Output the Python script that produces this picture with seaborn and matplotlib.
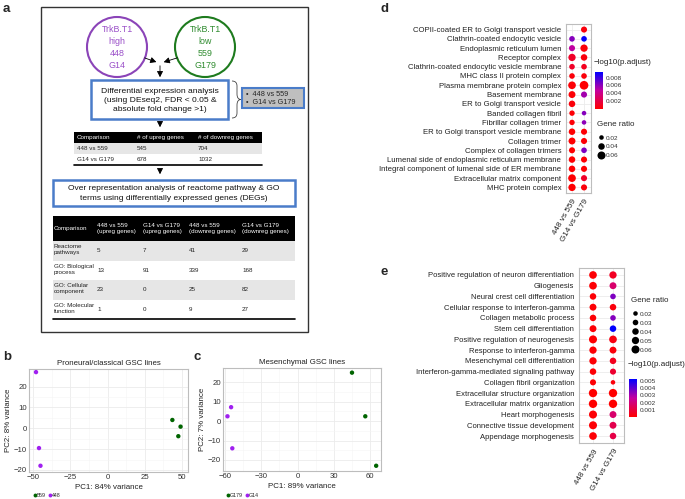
import numpy as np
import pandas as pd
import seaborn as sns
import matplotlib.pyplot as plt
from matplotlib.patches import Rectangle, Circle, PathPatch
from matplotlib.path import Path
from matplotlib.lines import Line2D
from matplotlib.colors import LinearSegmentedColormap, Normalize
from matplotlib.cm import ScalarMappable

# ---------------- data ----------------
# panel a: tables
deg_comparisons = ["448 vs 559", "G14 vs G179"]
deg_up = [545, 678]
deg_down = [704, 1032]

ora_header = ["Comparison", "448 vs 559\n(upreg genes)", "G14 vs G179\n(upreg genes)",
              "448 vs 559\n(downreg genes)", "G14 vs G179\n(downreg genes)"]
ora_terms = ["Reactome\npathways", "GO: Biological\nprocess", "GO: Cellular\ncomponent",
             "GO: Molecular\nfunction"]
ora_up_448 = [5, 13, 23, 1]
ora_up_g14 = [7, 91, 0, 0]
ora_down_448 = [41, 339, 25, 9]
ora_down_g14 = [29, 168, 82, 27]

# panel b / c: PCA
pca_b_pc1 = [43.5, 49, 47.5, -48, -46, -45]
pca_b_pc2 = [4, 0.8, -3.8, 27, -9.5, -18]
pca_b_line = ["559", "559", "559", "448", "448", "448"]

pca_c_pc1 = [45, 56, 65, -55, -58, -54]
pca_c_pc2 = [25, 2.5, -23, 7.2, 2.5, -14]
pca_c_line = ["G179", "G179", "G179", "G14", "G14", "G14"]

# panel d: GO cellular component
comparisons = ["448 vs 559", "G14 vs G179"]
d_terms = ["COPII-coated ER to Golgi transport vesicle", "Clathrin-coated endocytic vesicle",
           "Endoplasmic reticulum lumen", "Receptor complex",
           "Clathrin-coated endocytic vesicle membrane", "MHC class II protein complex",
           "Plasma membrane protein complex", "Basement membrane",
           "ER to Golgi transport vesicle", "Banded collagen fibril",
           "Fibrillar collagen trimer", "ER to Golgi transport vesicle membrane",
           "Collagen trimer", "Complex of collagen trimers",
           "Lumenal side of endoplasmic reticulum membrane",
           "Integral component of lumenal side of ER membrane",
           "Extracellular matrix component", "MHC protein complex"]
d_ratio_448 = [np.nan, 0.03, 0.035, 0.05, 0.03, 0.03, 0.055, 0.045, 0.04,
               0.028, 0.028, 0.04, 0.045, 0.035, 0.04, 0.04, 0.055, 0.05]
d_ratio_g14 = [0.035, 0.03, 0.05, 0.04, 0.03, 0.03, 0.07, 0.035, np.nan,
               0.02, 0.02, 0.035, 0.035, 0.03, 0.035, 0.035, 0.035, 0.035]
d_padj_448 = [np.nan, 0.0062, 0.0048, 0.0012, 0.0012, 0.0003, 0.0002, 0.0002, 0.0003,
              0.0002, 0.0002, 0.0001, 0.0001, 0.0001, 0.0001, 0.0001, 0.0001, 0.00005]
d_padj_g14 = [0.0004, 0.0093, 0.0003, 0.0004, 0.0009, 0.0003, 0.0001, 0.0055, np.nan,
              0.0062, 0.0060, 0.0002, 0.0002, 0.0064, 0.0001, 0.0001, 0.0012, 0.0003]

# panel e: GO biological process
e_terms = ["Positive regulation of neuron differentiation", "Gliogenesis",
           "Neural crest cell differentiation", "Cellular response to interferon-gamma",
           "Collagen metabolic process", "Stem cell differentiation",
           "Positive regulation of neurogenesis", "Response to interferon-gamma",
           "Mesenchymal cell differentiation", "Interferon-gamma-mediated signaling pathway",
           "Collagen fibril organization", "Extracellular structure organization",
           "Extracellular matrix organization", "Heart morphogenesis",
           "Connective tissue development", "Appendage morphogenesis"]
e_ratio_448 = [0.055, 0.055, 0.04, 0.045, 0.04, 0.045, 0.06, 0.05,
               0.05, 0.04, 0.035, 0.065, 0.065, 0.06, 0.06, 0.055]
e_ratio_g14 = [0.05, 0.045, 0.03, 0.04, 0.03, 0.04, 0.055, 0.045,
               0.04, 0.035, 0.02, 0.065, 0.065, 0.045, 0.045, 0.04]
e_padj_448 = [0.0001, 0.0001, 0.0001, 0.0001, 0.0001, 0.0001, 0.00005, 0.0001,
              0.0001, 0.0001, 0.0001, 0.00001, 0.00001, 0.0001, 0.0001, 0.0001]
e_padj_g14 = [0.0006, 0.0018, 0.0036, 0.0002, 0.0035, 0.0053, 0.0003, 0.0002,
              0.0005, 0.0008, 0.0002, 0.00001, 0.00001, 0.0018, 0.0013, 0.0012]

# ---------------- setup ----------------
sns.set_style("white")
plt.rcParams["font.family"] = ["Liberation Sans", "DejaVu Sans"]
plt.rcParams["axes.unicode_minus"] = True

W, H = 685, 499
fig = plt.figure(figsize=(W / 100, H / 100), dpi=100)


def px_axes(x0, y0, x1, y1):
    """axes placed with pixel coords measured from the top-left corner"""
    return fig.add_axes([x0 / W, 1 - y1 / H, (x1 - x0) / W, (y1 - y0) / H])


def fig_pt(x, y):
    return (x / W, 1 - y / H)


GREEN = "#006400"
PURPLE = "#A020F0"
BLUE_BOX = "#4A7CC9"
TXT = 4.5  # table text size
cmap_go = LinearSegmentedColormap.from_list("go", ["#FF0000", "#C4009E", "#0000FF"])

# ---------------- panel a : flow chart ----------------
axa = fig.add_axes([0, 0, 1, 1])
axa.set_xlim(0, W)
axa.set_ylim(H, 0)
axa.axis("off")

axa.add_patch(Rectangle((41, 7), 267, 325, fill=False, ec="#333333", lw=1))

axa.add_patch(Circle((117, 47), 30, fill=False, ec="#8B44B8", lw=1.5))
axa.text(117, 47.5, "TrkB.T1\nhigh\n448\nG14", color="#9A4FC8", fontsize=6.4,
         ha="center", va="center", linespacing=1.45)
axa.add_patch(Circle((205, 47), 30, fill=False, ec="#1E7B1E", lw=1.5))
axa.text(205, 47.5, "TrkB.T1\nlow\n559\nG179", color="#2E8B2E", fontsize=6.4,
         ha="center", va="center", linespacing=1.45)

arrow_kw = dict(arrowstyle="-|>,head_length=0.35,head_width=0.18", color="black", lw=0.6)
axa.annotate("", xy=(159, 63), xytext=(142, 57), arrowprops=arrow_kw)
axa.annotate("", xy=(161, 63), xytext=(180, 57), arrowprops=arrow_kw)
axa.annotate("", xy=(160, 80), xytext=(160, 63), arrowprops=arrow_kw)

axa.add_patch(Rectangle((91, 80), 137, 39, fc="white", ec=BLUE_BOX, lw=1.8))
axa.text(160, 100, "Differential expression analysis\n(using DEseq2, FDR < 0.05 &\n"
         "absolute fold change >1)", fontsize=6.1, ha="center", va="center",
         linespacing=1.4, color="#111111")

brace = Path([(232, 81), (237, 81), (237, 86), (237, 94), (237, 99.5), (241, 99.5),
              (237, 99.5), (237, 105), (237, 113), (237, 118), (232, 118)],
             [Path.MOVETO, Path.CURVE3, Path.CURVE3, Path.LINETO, Path.CURVE3, Path.CURVE3,
              Path.CURVE3, Path.CURVE3, Path.LINETO, Path.CURVE3, Path.CURVE3])
axa.add_patch(PathPatch(brace, fill=False, ec="#444444", lw=0.6))

axa.add_patch(Rectangle((242, 88), 62, 20, fc="#BFBFBF", ec=BLUE_BOX, lw=1.5))
axa.text(246, 98.5, "\u2022  " + deg_comparisons[0] + "\n\u2022  " + deg_comparisons[1],
         fontsize=5.2, ha="left", va="center", linespacing=1.3)

axa.annotate("", xy=(160, 130), xytext=(160, 119), arrowprops=arrow_kw)

# table 1
t1_cols = [77, 137, 198]
axa.add_patch(Rectangle((74, 132), 188, 11, fc="black", ec="none"))
for x, lab in zip(t1_cols, ["Comparison", "# of upreg genes", "# of downreg genes"]):
    axa.text(x, 137.5, lab, color="white", fontsize=TXT, ha="left", va="center")
for i, (comp, up, down) in enumerate(zip(deg_comparisons, deg_up, deg_down)):
    y0 = 143 + i * 11
    if i % 2 == 0:
        axa.add_patch(Rectangle((74, y0), 188, 11, fc="#E6E6E6", ec="none"))
    for x, val in zip(t1_cols, [comp, up, down]):
        axa.text(x, y0 + 5.5, str(val), fontsize=TXT, ha="left", va="center", color="#222222")
axa.plot([74, 262], [165, 165], color="black", lw=1.2)

axa.annotate("", xy=(160, 177), xytext=(160, 168), arrowprops=arrow_kw)

axa.add_patch(Rectangle((53, 180), 242, 26, fc="white", ec=BLUE_BOX, lw=1.8))
axa.text(174, 193.5, "Over representation analysis of reactome pathway & GO\n"
         "terms using differentially expressed genes (DEGs)", fontsize=6.0,
         ha="center", va="center", linespacing=1.4, color="#111111")

# table 2
t2_cols = [54, 97, 143, 189, 242]
axa.add_patch(Rectangle((53, 216), 242, 25, fc="black", ec="none"))
for x, lab in zip(t2_cols, ora_header):
    axa.text(x, 228.5, lab, color="white", fontsize=TXT, ha="left", va="center",
             linespacing=1.35)
row_h = 19.5
for i, term in enumerate(ora_terms):
    y0 = 241 + i * row_h
    if i % 2 == 0:
        axa.add_patch(Rectangle((53, y0), 242, row_h, fc="#E6E6E6", ec="none"))
    axa.text(t2_cols[0], y0 + row_h / 2 - 1, term, fontsize=TXT, ha="left", va="center",
             linespacing=1.35, color="#222222")
    vals = [ora_up_448[i], ora_up_g14[i], ora_down_448[i], ora_down_g14[i]]
    for x, v in zip(t2_cols[1:], vals):
        axa.text(x, y0 + row_h / 2, str(v), fontsize=TXT, ha="left", va="center",
                 color="#222222")
axa.plot([53, 295], [319, 319], color="black", lw=1.2)

# panel letters
for lab, (x, y) in {"a": (3, 9), "b": (3, 357), "c": (194, 357),
                    "d": (381, 9), "e": (381, 272)}.items():
    axa.text(x, y, lab, fontsize=9.5, fontweight="bold", ha="left", va="center")


# ---------------- panels b / c : PCA ----------------
def pca_panel(box, pc1, pc2, lines, order, title, xlab, ylab, xlim, ylim, xticks, yticks,
              leg_xy):
    ax = px_axes(*box)
    df = pd.DataFrame({"PC1": pc1, "PC2": pc2, "line": lines})
    sns.scatterplot(data=df, x="PC1", y="PC2", hue="line", hue_order=order,
                    palette=[GREEN, PURPLE], s=10, linewidth=0, legend=False, ax=ax,
                    zorder=3)
    ax.set_xlim(*xlim)
    ax.set_ylim(*ylim)
    ax.set_xticks(xticks)
    ax.set_yticks(yticks)
    ax.set_xticks([(a + b) / 2 for a, b in zip(xticks[:-1], xticks[1:])], minor=True)
    ax.set_yticks([(a + b) / 2 for a, b in zip(yticks[:-1], yticks[1:])], minor=True)
    ax.grid(True, which="major", color="#EBEBEB", lw=0.6)
    ax.grid(True, which="minor", color="#F5F5F5", lw=0.4)
    ax.tick_params(which="both", length=0, labelsize=5.6, colors="#333333", pad=1.5)
    for sp in ax.spines.values():
        sp.set_color("#BDBDBD")
        sp.set_linewidth(0.8)
    ax.set_title(title, fontsize=5.7, pad=3, color="#222222")
    ax.set_xlabel(xlab, fontsize=5.7, labelpad=2, color="#222222")
    ax.set_ylabel(ylab, fontsize=5.7, labelpad=1, color="#222222")
    handles = [Line2D([], [], marker="o", ls="", color=c, markersize=2.8, mew=0)
               for c in (GREEN, PURPLE)]
    ax.legend(handles, order, ncol=2, loc="upper left", bbox_to_anchor=fig_pt(*leg_xy),
              bbox_transform=fig.transFigure, frameon=False, fontsize=3.8,
              handletextpad=0.05, columnspacing=0.3, handlelength=0.8, borderpad=0)
    return ax


pca_panel((29, 369, 188, 472), pca_b_pc1, pca_b_pc2, pca_b_line, ["559", "448"],
          "Proneural/classical GSC lines", "PC1: 84% variance", "PC2: 8% variance",
          (-52.7, 54), (-21, 28.5), [-50, -25, 0, 25, 50], [-20, -10, 0, 10, 20], (30, 490))
pca_panel((223, 368, 381, 471), pca_c_pc1, pca_c_pc2, pca_c_line, ["G179", "G14"],
          "Mesenchymal GSC lines", "PC1: 89% variance", "PC2: 7% variance",
          (-61.7, 69), (-25.7, 27.4), [-60, -30, 0, 30, 60], [-20, -10, 0, 10, 20], (223, 490))


# ---------------- panels d / e : dot plots ----------------
def long_table(terms, r448, r14, p448, p14):
    df = pd.DataFrame({
        "term": list(terms) * 2,
        "comparison": [comparisons[0]] * len(terms) + [comparisons[1]] * len(terms),
        "ratio": list(r448) + list(r14),
        "padj": list(p448) + list(p14),
    }).dropna()
    df["term"] = pd.Categorical(df["term"], categories=terms)
    df["comparison"] = pd.Categorical(df["comparison"], categories=comparisons)
    return df


def size_of(r):
    return 5 + 34 * (r - 0.01) / 0.06


def dot_panel(box, terms, df, vmax, xlim, ylim_pad, label_fs):
    ax = px_axes(*box)
    sns.scatterplot(data=df, x="comparison", y="term", hue="padj", size="ratio",
                    palette=cmap_go, hue_norm=(0, vmax), sizes=(5, 39),
                    size_norm=(0.01, 0.07), linewidth=0, legend=False, ax=ax, zorder=3)
    ax.set_xlim(*xlim)
    ax.set_ylim(len(terms) - 1 + ylim_pad, -ylim_pad)
    ax.set_xlabel("")
    ax.set_ylabel("")
    ax.grid(True, color="#EBEBEB", lw=0.6)
    ax.tick_params(axis="both", length=2, width=0.5, color="#888888", labelsize=label_fs,
                   labelcolor="#222222", pad=1.5)
    plt.setp(ax.get_xticklabels(), rotation=60, ha="right", rotation_mode="anchor",
             fontsize=label_fs + 0.3)
    for sp in ax.spines.values():
        sp.set_color("#BDBDBD")
        sp.set_linewidth(0.8)
    return ax


def colorbar(box, vmax, ticks, title_xy):
    cax = px_axes(*box)
    cb = fig.colorbar(ScalarMappable(Normalize(0, vmax), cmap_go), cax=cax)
    cb.outline.set_visible(False)
    cb.set_ticks(ticks)
    cb.set_ticklabels([f"{t:.3f}" for t in ticks])
    cax.tick_params(length=0, labelsize=4.6, labelcolor="#333333", pad=2)
    fig.text(*fig_pt(*title_xy), "\u2212log10(p.adjust)", fontsize=5.8, ha="left",
             va="center", color="#222222")


def size_legend(ax, ratios, anchor_xy, spacing):
    handles = [Line2D([], [], marker="o", ls="", color="black", mew=0,
                      markersize=np.sqrt(size_of(r))) for r in ratios]
    leg = ax.legend(handles, [f"{r:.2f}" for r in ratios], title="Gene ratio",
                    loc="upper left", bbox_to_anchor=fig_pt(*anchor_xy),
                    bbox_transform=fig.transFigure, frameon=False, fontsize=4.6,
                    title_fontsize=5.8, handletextpad=0.1, labelspacing=spacing,
                    borderpad=0, handlelength=1.2, alignment="left")
    leg._legend_box.sep = 5
    for t in leg.get_texts():
        t.set_color("#333333")


df_d = long_table(d_terms, d_ratio_448, d_ratio_g14, d_padj_448, d_padj_g14)
ax_d = dot_panel((566, 24, 591, 193), d_terms, df_d, 0.0094, (-0.5, 1.58), 0.6, 5.6)
colorbar((595, 72, 603, 109), 0.0094, [0.002, 0.004, 0.006, 0.008], (594, 62))
size_legend(ax_d, [0.02, 0.04, 0.06], (594, 118), 0.5)

df_e = long_table(e_terms, e_ratio_448, e_ratio_g14, e_padj_448, e_padj_g14)
ax_e = dot_panel((579, 268, 624, 443), e_terms, df_e, 0.0053, (-0.7, 1.55), 0.65, 5.5)
size_legend(ax_e, [0.02, 0.03, 0.04, 0.05, 0.06], (628, 294), 0.55)
colorbar((629, 379, 637, 417), 0.0053, [0.001, 0.002, 0.003, 0.004, 0.005], (628, 365))

fig.savefig("out.png", dpi=100)
